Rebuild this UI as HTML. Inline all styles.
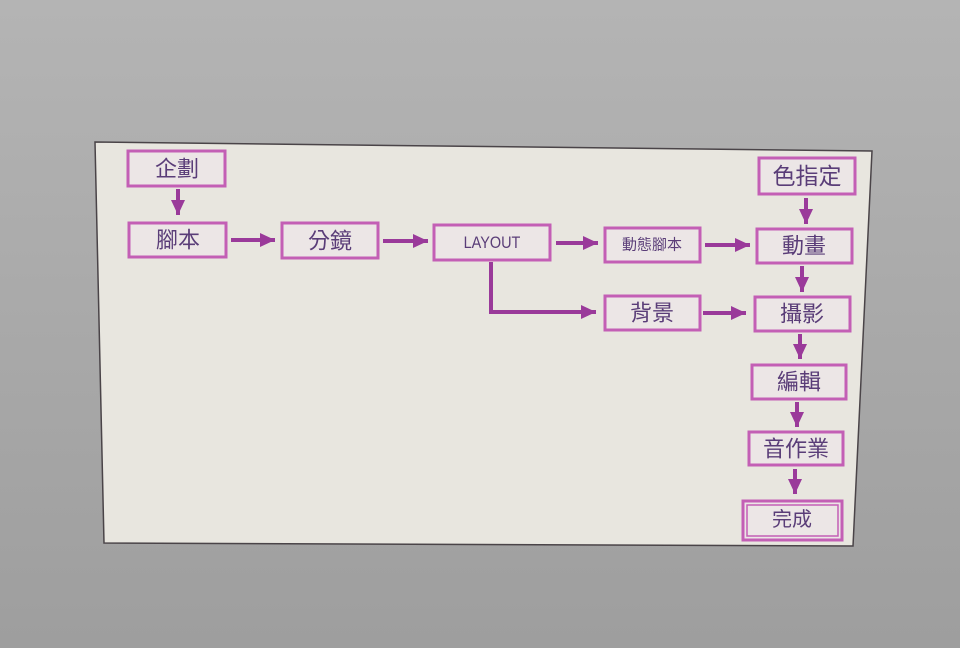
<!DOCTYPE html>
<html><head><meta charset="utf-8"><style>
html,body{margin:0;padding:0;width:960px;height:648px;overflow:hidden;background:#a9a9a9}
svg{display:block}
text{font-family:"Liberation Sans","Noto Sans CJK TC",sans-serif;fill:#5a3d78;text-anchor:middle;dominant-baseline:central}
</style></head><body>
<svg width="960" height="648" viewBox="0 0 960 648">
<defs>
<linearGradient id="bg" x1="0" y1="0" x2="0" y2="1">
<stop offset="0" stop-color="#b4b4b4"/><stop offset="1" stop-color="#9e9e9e"/>
</linearGradient>
<marker id="a" markerWidth="15" markerHeight="14" refX="15" refY="7" orient="auto" markerUnits="userSpaceOnUse">
<path d="M0,0 L15,7 L0,14 Z" fill="#9a3a9a"/></marker>
</defs>
<rect width="960" height="648" fill="url(#bg)"/>
<polygon points="95,142 872,151 853,546 104,543" fill="#e8e6df" stroke="#4a4448" stroke-width="1.5"/>
<g fill="#ece6e6" stroke="#c35fb5" stroke-width="3">
<rect x="128" y="151" width="97" height="35"/>
<rect x="129" y="223" width="97" height="34"/>
<rect x="282" y="223" width="96" height="35"/>
<rect x="434" y="225" width="116" height="35"/>
<rect x="605" y="228" width="95" height="34"/>
<rect x="605" y="296" width="95" height="34"/>
<rect x="759" y="158" width="96" height="36"/>
<rect x="757" y="229" width="95" height="34"/>
<rect x="755" y="297" width="95" height="34"/>
<rect x="752" y="365" width="94" height="34"/>
<rect x="749" y="432" width="94" height="33"/>
<rect x="743" y="501" width="99" height="39"/>
</g>
<rect x="747" y="505" width="91" height="31" fill="none" stroke="#c35fb5" stroke-width="1.5"/>
<g stroke="#9a3a9a" stroke-width="4" fill="none" marker-end="url(#a)">
<line x1="178" y1="189" x2="178" y2="215"/>
<line x1="231" y1="240" x2="275" y2="240"/>
<line x1="383" y1="241" x2="428" y2="241"/>
<line x1="556" y1="243" x2="598" y2="243"/>
<line x1="705" y1="245" x2="750" y2="245"/>
<polyline points="491,262 491,312 596,312"/>
<line x1="703" y1="313" x2="746" y2="313"/>
<line x1="806" y1="198" x2="806" y2="224"/>
<line x1="802" y1="266" x2="802" y2="292"/>
<line x1="800" y1="334" x2="800" y2="359"/>
<line x1="797" y1="402" x2="797" y2="427"/>
<line x1="795" y1="469" x2="795" y2="494"/>
</g>
<text x="177" y="169" font-size="22">企劃</text>
<text x="178" y="240" font-size="22">腳本</text>
<text x="330" y="241" font-size="22">分鏡</text>
<text x="492" y="243" font-size="17" transform="translate(492 243) scale(0.85 1) translate(-492 -243)">LAYOUT</text>
<text x="652" y="245" font-size="15">動態腳本</text>
<text x="652" y="313" font-size="22">背景</text>
<text x="807" y="176" font-size="23">色指定</text>
<text x="804" y="246" font-size="22">動畫</text>
<text x="802" y="314" font-size="22">攝影</text>
<text x="799" y="382" font-size="22">編輯</text>
<text x="796" y="449" font-size="22">音作業</text>
<text x="792" y="520" font-size="20">完成</text>
</svg>
</body></html>
